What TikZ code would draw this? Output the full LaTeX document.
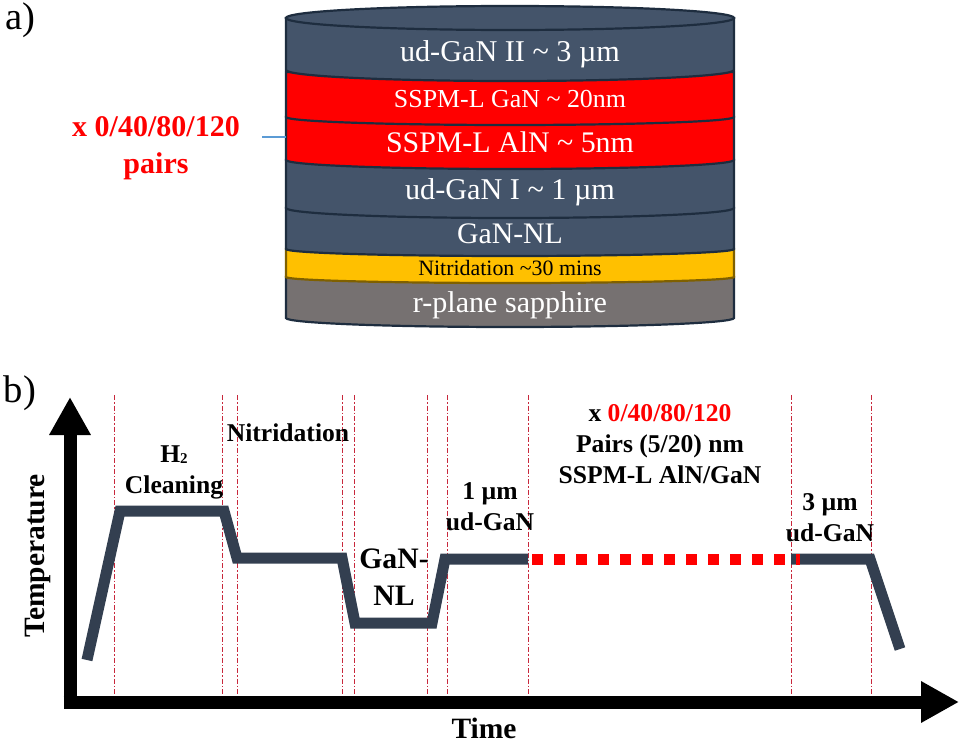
\documentclass[tikz,border=0pt]{standalone}
\usepackage{fontspec}
\setmainfont{Liberation Serif}
\usetikzlibrary{arrows.meta}
\definecolor{slatefill}{HTML}{44546A}
\definecolor{slateline}{HTML}{1E2D3F}
\definecolor{profile}{HTML}{333F50}
\definecolor{goldfill}{HTML}{FFC000}
\definecolor{goldline}{HTML}{7F6000}
\definecolor{sapphire}{HTML}{767171}
\definecolor{guide}{HTML}{C8283C}
\definecolor{leader}{HTML}{5B9BD5}
\newcommand{\fsz}[1]{\fontsize{#1}{#1}\selectfont}
\newcommand{\cylLayer}[4]{\path[#1] (286,#2) -- (286,#3) arc[start angle=180,end angle=0,x radius=224,y radius=#4] -- (734,#2) -- cycle;}
\tikzset{
  x=1pt,y=-1pt,
  slatelayer/.style={fill=slatefill,draw=slateline,line width=2.2pt},
  redlayer/.style={fill=red,draw=slateline,line width=2.2pt},
  goldlayer/.style={fill=goldfill,draw=goldline,line width=2.2pt},
  sapphirelayer/.style={fill=sapphire,draw=slateline,line width=2.2pt},
  lay/.style={anchor=base,inner sep=0pt,text=white},
  lbl/.style={anchor=base,inner sep=0pt,font=\bfseries\fsz{25.6}},
  guideline/.style={guide,line width=0.9pt,dash pattern=on 5pt off 2pt on 1.5pt off 2pt},
  axisline/.style={line width=13pt,-{Triangle[length=38pt,width=39pt]}},
  tempcurve/.style={profile,line width=11pt,line join=miter}
}
\begin{document}
\begin{tikzpicture}
\useasboundingbox[fill=white] (0,0) rectangle (962,744);
% --- panel a: layer stack
\cylLayer{sapphirelayer}{277}{318}{9}
\cylLayer{goldlayer}{249}{277}{6}
\cylLayer{slatelayer}{208}{249}{7}
\cylLayer{slatelayer}{160}{208}{10}
\cylLayer{redlayer}{117}{160}{9}
\cylLayer{redlayer}{72}{117}{8}
\cylLayer{slatelayer}{18}{70}{11}
\path[slatelayer] (510,18) ellipse[x radius=224,y radius=12];
\node[anchor=base,inner sep=0pt,font=\fsz{38.6}] (la) at (20,29) {a)};
\node[lay,font=\fsz{30.2}] (l1) at (510,61) {ud-GaN II \textasciitilde{} 3 µm};
\node[lay,font=\fsz{25.9}] (l2) at (510,107) {SSPM-L GaN \textasciitilde{} 20nm};
\node[lay,font=\fsz{29.9}] (l3) at (510,152) {SSPM-L AlN \textasciitilde{} 5nm};
\node[lay,font=\fsz{30.2}] (l4) at (510,199) {ud-GaN I \textasciitilde{} 1 µm};
\node[lay,font=\fsz{29.8}] (l5) at (510,243) {GaN-NL};
\node[lay,font=\fsz{21.9},text=black] (l6) at (510,275) {Nitridation \textasciitilde30 mins};
\node[lay,font=\fsz{30.1}] (l7) at (510,312) {r-plane sapphire};
\node[inner sep=0pt,align=center,text=red,font=\bfseries\fontsize{30}{37}\selectfont] (pairs) at (156,148) {x 0/40/80/120\\pairs};
\coordinate (leadA) at (262,137);
\coordinate (leadB) at (286,137);
\draw[leader,line width=1.5pt] (leadA) -- (leadB);
% --- panel b: guides
\foreach \gx in {114,222,237,342,354,427,447,528,791,871}
  \draw[guideline] (\gx,395) -- (\gx,697);
% --- axes
\coordinate (org) at (70,702);
\coordinate (ytip) at (70,397);
\coordinate (xtip) at (959,702);
\draw[axisline] (63.5,702) -- (xtip);
\draw[axisline] (org) -- (ytip);
% --- temperature profile
\draw[tempcurve] (87,660) -- (120,511) -- (224,511) -- (237,558) -- (342,558) -- (355,623) -- (432,623) -- (445,559) -- (528,559);
\draw[tempcurve] (791,559) -- (870,559) -- (900,649);
\draw[red,line width=11pt,dash pattern=on 11pt off 11pt] (532,559) -- (800,559);
% --- labels
\node[anchor=base,inner sep=0pt,font=\fsz{38.6}] (lb) at (20,402) {b)};
\node[anchor=base,inner sep=0pt,rotate=90,font=\bfseries\fsz{29.5}] (ty) at (45,556) {Temperature};
\node[anchor=base,inner sep=0pt,font=\bfseries\fsz{29.5}] (tx) at (484,738.5) {Time};
\node[lbl] (h2a) at (174,462) {H\raisebox{-1pt}{\fsz{15}2}};
\node[lbl] (h2b) at (174,493) {Cleaning};
\node[lbl] (nit) at (288,441) {Nitridation};
\node[lbl,font=\bfseries\fsz{29.7}] (nla) at (394,568) {GaN-};
\node[lbl,font=\bfseries\fsz{29.7}] (nlb) at (394,605) {NL};
\node[lbl] (u1a) at (490,499) {1 µm};
\node[lbl] (u1b) at (490,530) {ud-GaN};
\node[lbl] (s1) at (660,421) {x \textcolor{red}{0/40/80/120}};
\node[lbl] (s2) at (660,452) {Pairs (5/20) nm};
\node[lbl] (s3) at (660,483) {SSPM-L AlN/GaN};
\node[lbl] (u3a) at (830,510) {3 µm};
\node[lbl] (u3b) at (830,541) {ud-GaN};
\end{tikzpicture}
\end{document}
